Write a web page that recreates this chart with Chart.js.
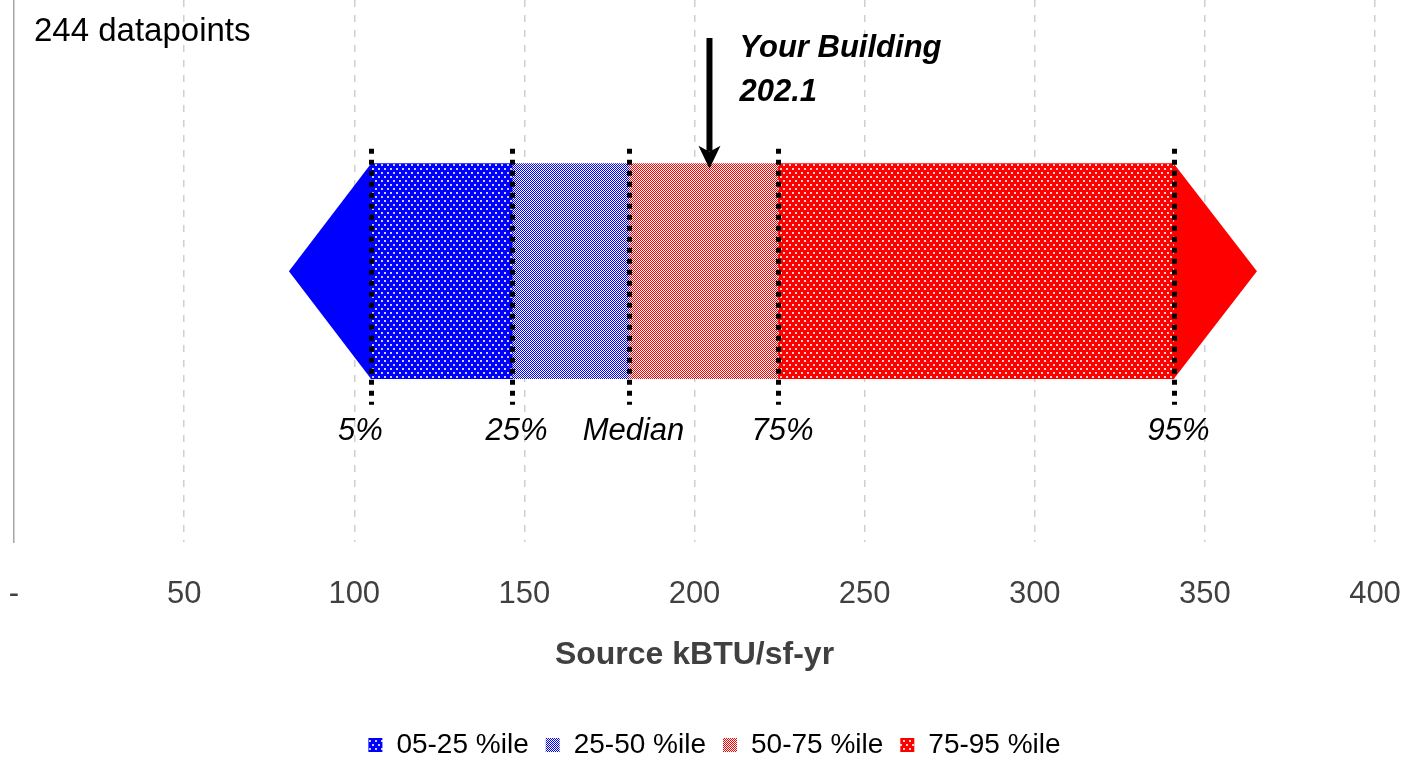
<!DOCTYPE html>
<html>
<head>
<meta charset="utf-8">
<script src="https://cdn.jsdelivr.net/npm/chart.js@4.4.0/dist/chart.umd.min.js"></script>
<style>
  html, body { margin: 0; padding: 0; background: #fff; }
  #wrap { width: 1410px; height: 758px; }
</style>
</head>
<body>
<div id="wrap"><canvas id="chart"></canvas></div>
<script>
// values
const categories = ['Source EUI'];
const seriesLabels = ['05-25 %ile', '25-50 %ile', '50-75 %ile', '75-95 %ile'];
const percentileValues = [104.9, 146.4, 180.7, 224.5, 340.9];
const percentileNames = ['5%', '25%', 'Median', '75%', '95%'];
const tailValues = [80.8, 365.3];
const buildingValue = 202.1;
const arrowValue = 204.4;
const datapointCount = 244;
const tickValues = [0, 50, 100, 150, 200, 250, 300, 350, 400];

const FONT = '"Liberation Sans", Arial, sans-serif';

function makePattern(base, kind) {
    const c = document.createElement('canvas');
    const g = c.getContext('2d');
    if (kind === 'dots') {
        c.width = 6; c.height = 8;
        g.fillStyle = base; g.fillRect(0, 0, 6, 8);
        g.fillStyle = 'rgba(255,255,255,0.8)';
        g.fillRect(0, 0, 2, 2);
        g.fillRect(3, 4, 2, 2);
    } else {
        // 50% checker
        c.width = 2; c.height = 2;
        g.fillStyle = '#fff'; g.fillRect(0, 0, 2, 2);
        g.fillStyle = base;
        g.fillRect(0, 0, 1, 1);
        g.fillRect(1, 1, 1, 1);
    }
    return g.createPattern(c, 'repeat');
}

const fills = [
    makePattern('#0000ff', 'dots'),
    makePattern('#0000ff', 'fine'),
    makePattern('#ff0000', 'fine'),
    makePattern('#ff0000', 'dots')
];

const datasets = seriesLabels.map((label, i) => ({
    label: label,
    data: [[percentileValues[i], percentileValues[i + 1]]],
    backgroundColor: fills[i],
    borderWidth: 0,
    barThickness: 215
}));

const markers = {
    id: 'markers',
    afterLayout(chart) {
        // legend sits a bit right of centre in the original
        chart.legend.left += 20;
        chart.legend.right += 20;
    },
    afterDatasetsDraw(chart) {
        const ctx = chart.ctx;
        const x = chart.scales.x;
        const bar = chart.getDatasetMeta(0).data[0];
        const top = bar.y - bar.height / 2;
        const bottom = bar.y + bar.height / 2;
        const mid = bar.y;
        const last = percentileValues.length - 1;

        ctx.save();
        // end arrows of the 5% / 95% tails
        ctx.fillStyle = '#0000ff';
        ctx.beginPath();
        ctx.moveTo(x.getPixelForValue(percentileValues[0]), top);
        ctx.lineTo(x.getPixelForValue(tailValues[0]), mid);
        ctx.lineTo(x.getPixelForValue(percentileValues[0]), bottom);
        ctx.closePath();
        ctx.fill();
        ctx.fillStyle = '#ff0000';
        ctx.beginPath();
        ctx.moveTo(x.getPixelForValue(percentileValues[last]), top);
        ctx.lineTo(x.getPixelForValue(tailValues[1]), mid);
        ctx.lineTo(x.getPixelForValue(percentileValues[last]), bottom);
        ctx.closePath();
        ctx.fill();

        // dotted percentile markers + labels
        ctx.strokeStyle = '#000';
        ctx.lineWidth = 5;
        ctx.setLineDash([5, 6]);
        ctx.fillStyle = '#000';
        ctx.font = 'italic 31px ' + FONT;
        ctx.textAlign = 'center';
        ctx.textBaseline = 'middle';
        percentileValues.forEach((v, i) => {
            const px = Math.round(x.getPixelForValue(v)) + 0.5;
            ctx.beginPath();
            ctx.moveTo(px, top - 15);
            ctx.lineTo(px, bottom + 26);
            ctx.stroke();
            ctx.fillText(percentileNames[i], px + (i === 0 ? -11 : 4), bottom + 53);
        });
        ctx.setLineDash([]);

        // your building arrow
        const ax = x.getPixelForValue(arrowValue);
        ctx.lineWidth = 6;
        ctx.beginPath();
        ctx.moveTo(ax, chart.chartArea.top + 38);
        ctx.lineTo(ax, top - 12);
        ctx.stroke();
        ctx.beginPath();
        ctx.moveTo(ax, top + 5);
        ctx.lineTo(ax - 11, top - 18);
        ctx.lineTo(ax, top - 12);
        ctx.lineTo(ax + 11, top - 18);
        ctx.closePath();
        ctx.fill();

        ctx.textAlign = 'left';
        ctx.font = 'italic bold 31px ' + FONT;
        ctx.fillText('Your Building', ax + 30, chart.chartArea.top + 48);
        ctx.fillText(buildingValue.toFixed(1), ax + 30, chart.chartArea.top + 92);

        ctx.font = '33px ' + FONT;
        ctx.fillText(datapointCount + ' datapoints', chart.chartArea.left + 20, chart.chartArea.top + 32);
        ctx.restore();
    }
};

new Chart(document.getElementById('chart').getContext('2d'), {
    type: 'bar',
    data: { labels: categories, datasets: datasets },
    plugins: [markers],
    options: {
        indexAxis: 'y',
        responsive: true,
        maintainAspectRatio: false,
        animation: false,
        layout: { padding: { left: 14, right: 35, top: 0, bottom: 0 } },
        scales: {
            x: {
                type: 'linear',
                min: 0,
                max: 400,
                afterBuildTicks: (scale) => { scale.ticks = tickValues.map(v => ({ value: v })); },
                grid: {
                    color: (c) => c.tick && c.tick.value === 0 ? 'rgba(0,0,0,0)' : '#cfcfcf',
                    lineWidth: 1.5,
                    drawTicks: true,
                    tickLength: 29,
                    tickColor: 'rgba(0,0,0,0)'
                },
                border: { display: false, dash: [7, 8] },
                ticks: {
                    padding: 4,
                    color: '#404040',
                    font: { family: FONT, size: 31 },
                    maxRotation: 0,
                    callback: (v) => v === 0 ? '-' : v
                },
                title: {
                    display: true,
                    text: 'Source kBTU/sf-yr',
                    color: '#404040',
                    font: { family: FONT, size: 32, weight: 'bold' },
                    padding: { top: 19, bottom: 40 }
                }
            },
            y: {
                stacked: true,
                ticks: { display: false },
                grid: { display: false, drawTicks: false },
                border: { display: true, color: '#a6a6a6', width: 1.5 }
            }
        },
        plugins: {
            tooltip: { enabled: false },
            legend: {
                position: 'bottom',
                maxHeight: 44,
                labels: {
                    color: '#000',
                    font: { family: FONT, size: 28 },
                    boxWidth: 14,
                    boxHeight: 14,
                    padding: 17
                }
            }
        }
    }
});
</script>
</body>
</html>
